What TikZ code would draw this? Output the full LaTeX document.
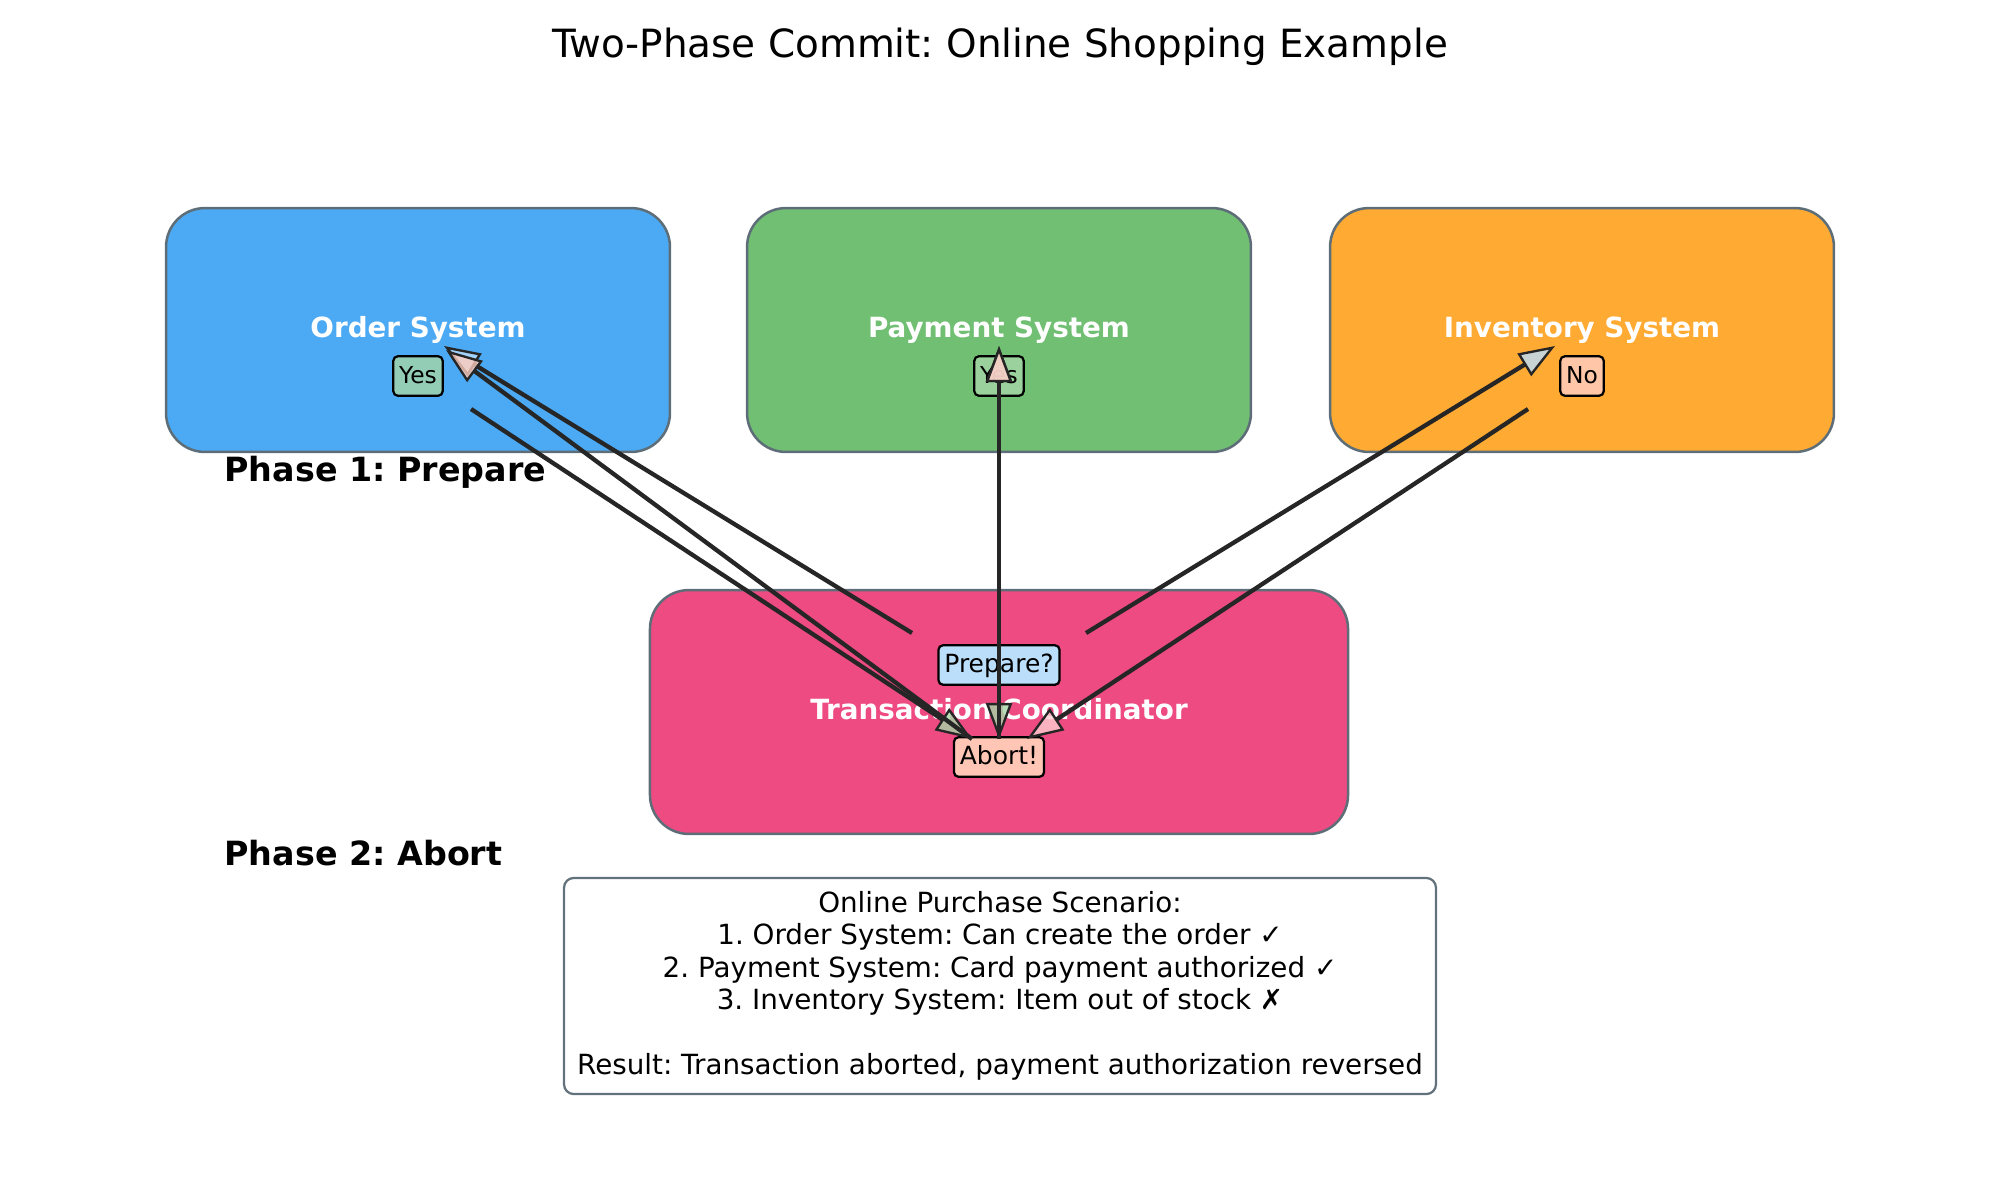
\documentclass[tikz,border=0pt]{standalone}
\usepackage{fontspec}
\setmainfont{DejaVu Sans}
\usetikzlibrary{arrows.meta}
\definecolor{ordercol}{HTML}{4CAAF4}
\definecolor{paycol}{HTML}{71BF73}
\definecolor{invcol}{HTML}{FFAB33}
\definecolor{coordcol}{HTML}{ED4B82}
\definecolor{edgecol}{HTML}{5E6E78}
\definecolor{yescol}{HTML}{A5D6A7}
\definecolor{nocol}{HTML}{FFCCBC}
\definecolor{nohead}{HTML}{FFCDD2}
\definecolor{prepcol}{HTML}{BBDEFB}
\definecolor{abortcol}{HTML}{FFC6B6}
\definecolor{linecol}{HTML}{262626}
\definecolor{scencol}{HTML}{62727C}
\frenchspacing
\begin{document}
\begin{tikzpicture}[x=0.36pt,y=-0.36pt,
  sysbox/.style={draw=edgecol, line width=0.9pt, rounded corners=14pt,
    minimum width=181.4pt, minimum height=87.8pt, inner sep=0pt,
    text=white, font=\fontsize{10}{12}\selectfont\bfseries},
  tag/.style={draw=black, line width=0.8pt, rounded corners=1.6pt,
    inner xsep=2.1pt, inner ysep=2.3pt, text height=0.74em, text depth=0.22em,
    font=\fontsize{8.4}{10}\selectfont},
  bigtag/.style={tag, font=\fontsize{9}{10.8}\selectfont},
  phase/.style={anchor=west, inner xsep=0pt, font=\fontsize{12}{14}\selectfont\bfseries},
  msg/.style={draw=linecol, line width=1.55pt, fill opacity=0.8,
    -{Triangle[length=13pt,width=9.4pt,line width=0.85pt,fill=#1]}}
]
\useasboundingbox (0,0) rectangle (2000,1200);

% title
\node[font=\fontsize{14}{17}\selectfont] (title) at (1000,47) {Two-Phase Commit: Online Shopping Example};

% systems
\node[sysbox, fill=ordercol] (order) at (418,330) {Order System};
\node[sysbox, fill=paycol] (payment) at (999,330) {Payment System};
\node[sysbox, fill=invcol] (inventory) at (1582,330) {Inventory System};
\node[sysbox, fill=coordcol, minimum width=251.3pt] (coord) at (999,712) {\raisebox{2pt}{Transaction Coordinator}};

% phase labels
\node[phase] (ph1) at (224,472) {Phase 1: Prepare};
\node[phase] (ph2) at (224,853) {Phase 2: Abort};

% vote / message labels
\node[tag, fill=yescol, fill opacity=0.8, text opacity=1] (yesO) at (418,376) {Yes};
\node[tag, fill=yescol, fill opacity=0.8, text opacity=1] (yesP) at (999,376) {Yes};
\node[tag, fill=nocol, fill opacity=0.85, text opacity=1] (noI) at (1582,376) {No};
\node[bigtag, fill=prepcol] (prep) at (999,665) {Prepare?};
\node[bigtag, fill=abortcol] (abort) at (999,757) {Abort!};

% scenario
\node[draw=scencol, line width=0.8pt, rounded corners=3.5pt, fill=white,
  minimum width=313.9pt, minimum height=77.8pt, align=center,
  font=\fontsize{10}{11.7}\selectfont] (scen) at (1000,986)
  {Online Purchase Scenario:\\
   1. Order System: Can create the order ✓\\
   2. Payment System: Card payment authorized ✓\\
   3. Inventory System: Item out of stock ✗\\[11.7pt]
   Result: Transaction aborted, payment authorization reversed};

% arrow end points
\coordinate (pO) at (912,633);
\coordinate (pP) at (999,633);
\coordinate (pI) at (1086,633);
\coordinate (tO) at (444,346);
\coordinate (tP) at (999,346);
\coordinate (tI) at (1555,346);
\coordinate (vO) at (471,409);
\coordinate (vP) at (999,409);
\coordinate (vI) at (1528,409);
\coordinate (cO) at (972,739);
\coordinate (cP) at (999,739);
\coordinate (cI) at (1027,739);
\coordinate (aO) at (446,350);

% phase 1: prepare requests
\draw[msg=prepcol] (pO) -- (tO);
\draw[msg=prepcol] (pP) -- (tP);
\draw[msg=prepcol] (pI) -- (tI);
% votes
\draw[msg=yescol] (vO) -- (cO);
\draw[msg=yescol] (vP) -- (cP);
\draw[msg=nohead] (vI) -- (cI);
% phase 2: abort
\draw[msg=nocol] (cO) -- (aO);
\draw[msg=nocol] (cP) -- (tP);
\end{tikzpicture}
\end{document}
